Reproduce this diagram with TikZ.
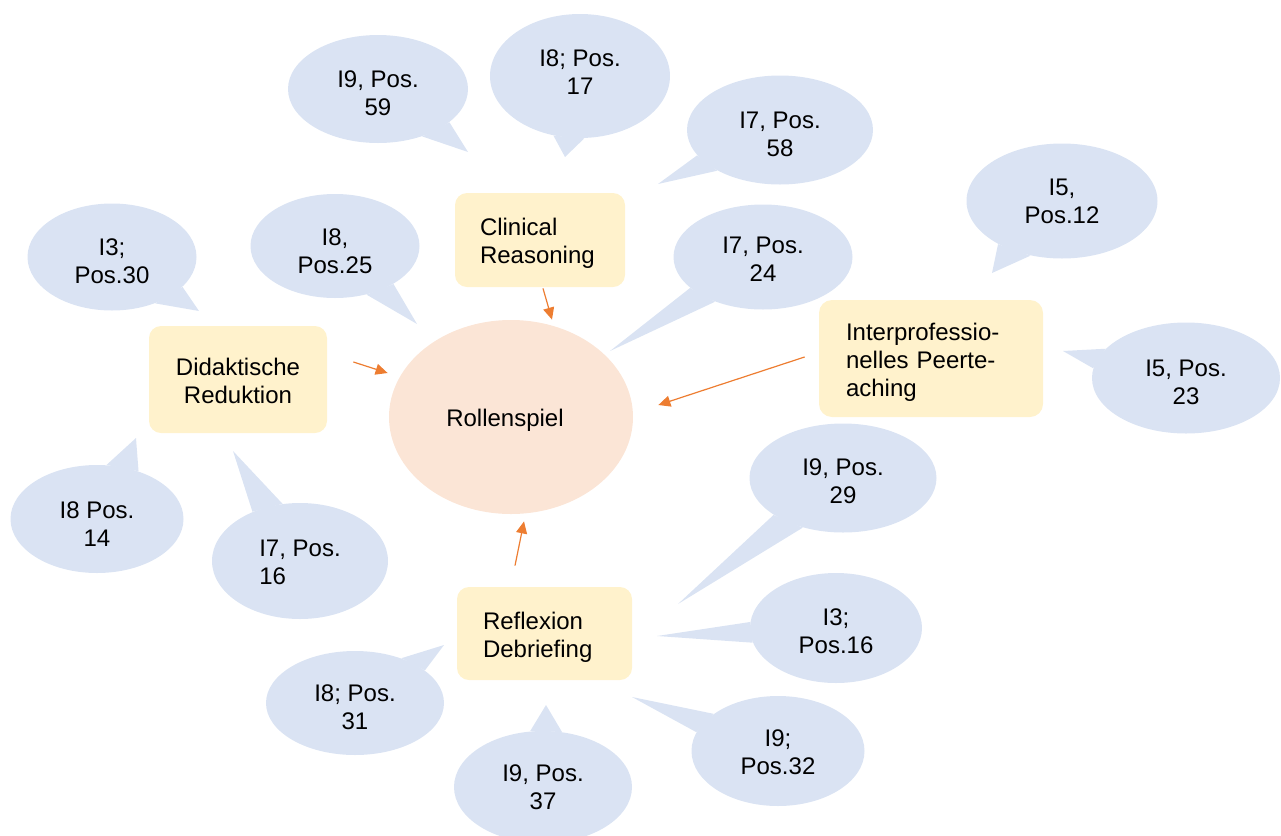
\documentclass[tikz,border=0pt]{standalone}
\usepackage{fontspec}
\setmainfont{Liberation Sans}
\usetikzlibrary{shapes.geometric,arrows.meta,backgrounds}

\definecolor{bubblefill}{HTML}{DAE3F3}
\definecolor{boxfill}{HTML}{FFF2CC}
\definecolor{centrefill}{HTML}{FBE5D6}
\definecolor{arrowc}{HTML}{ED7D31}

\tikzset{
  txt/.style={font=\fontsize{12pt}{14pt}\selectfont, text=black},
  bubble/.style={txt, ellipse, fill=bubblefill, inner sep=0pt, align=center,
    text height=26pt, text depth=0pt},
  tail/.style={fill=bubblefill},
  topic/.style={txt, rectangle, rounded corners=6pt, fill=boxfill, inner sep=0pt},
  lefttopic/.style={topic, align=left, text height=12pt},
  centre/.style={txt, ellipse, fill=centrefill, inner sep=0pt, text height=12pt,
    minimum width=122pt, minimum height=97pt},
  arr/.style={draw=arrowc, line width=0.6pt,
    -{Triangle[length=6pt,width=5.5pt,fill=arrowc]}}
}

% tail of a speech bubble: node, border angles, tip coordinate
\newcommand{\bubtail}[4]{\fill[tail] (#1.#2) -- (#4) -- (#1.#3) -- cycle;}

\begin{document}
\begin{tikzpicture}[x=0.5pt,y=-0.5pt]
\useasboundingbox (0,0) rectangle (1281,836);

% central topic
\node[centre] (rs) at (511,417) {\hspace*{-6pt}Rollenspiel};

% aspects
\node[lefttopic, minimum width=85pt, minimum height=47pt,
      inner xsep=12.5pt, text width=60pt]
  (clin) at (540,240) {Clinical\\Reasoning};
\node[topic, minimum width=89pt, minimum height=53.5pt, align=center,
      text height=24pt, text depth=0pt]
  (did) at (238,379.5) {Didaktische\\Reduktion};
\node[lefttopic, minimum width=112pt, minimum height=58.5pt, rounded corners=6.5pt,
      inner xsep=13.5pt, text width=85pt]
  (peer) at (931,358.5) {Interprofessio-\\nelles Peerte-\\aching};
\node[lefttopic, minimum width=87.5pt, minimum height=46.5pt,
      inner xsep=13pt, text width=61.5pt]
  (refl) at (544.5,633.5) {Reflexion\\Debriefing};

% speech bubbles with interview references
\node[bubble, minimum width=90pt,   minimum height=54pt]   (b1)  at (378,89)   {I9, Pos.\\59};
\node[bubble, minimum width=90pt,   minimum height=62pt, text height=18.5pt] (b2) at (580,76) {I8; Pos.\\17};
\node[bubble, minimum width=93pt,   minimum height=54.5pt] (b3)  at (780,130)  {I7, Pos.\\58};
\node[bubble, minimum width=95.5pt, minimum height=57.5pt, text height=22.5pt] (b4) at (1062,201) {I5,\\Pos.12};
\node[bubble, minimum width=89.5pt, minimum height=52.5pt, text height=24.5pt] (b5) at (763,257) {I7, Pos.\\24};
\node[bubble, minimum width=84.5pt, minimum height=52pt, text height=27pt] (b6) at (335,246) {I8,\\Pos.25};
\node[bubble, minimum width=84.5pt, minimum height=53.5pt] (b7)  at (112,257)  {I3;\\Pos.30};
\node[bubble, minimum width=94pt,   minimum height=55.5pt] (b8)  at (1186,378) {I5, Pos.\\23};
\node[bubble, minimum width=86.5pt, minimum height=54pt, text height=27pt] (b9) at (97,519) {I8 Pos.\\14};
\node[bubble, minimum width=88pt,   minimum height=58pt, align=left, text height=23.5pt] (b10) at (300,561) {I7, Pos.\\16};
\node[bubble, minimum width=93.5pt, minimum height=54.5pt, text height=25.5pt] (b11) at (843,478) {I9, Pos.\\29};
\node[bubble, minimum width=86pt,   minimum height=55pt, text height=25.5pt] (b12) at (836,628) {I3;\\Pos.16};
\node[bubble, minimum width=86.5pt, minimum height=55pt, text height=23.5pt] (b13) at (778,751) {I9;\\Pos.32};
\node[bubble, minimum width=89pt,   minimum height=56pt, text height=22.5pt] (b14) at (543,787) {I9, Pos.\\37};
\node[bubble, minimum width=89pt,   minimum height=52pt]   (b15) at (355,703)  {I8; Pos.\\31};

% tip points of the bubble tails
\coordinate (t1)  at (468,152);
\coordinate (t2)  at (565,157);
\coordinate (t3)  at (658,184);
\coordinate (t4)  at (992,273);
\coordinate (t5)  at (610,351);
\coordinate (t6)  at (417,324);
\coordinate (t7)  at (199,311);
\coordinate (t8)  at (1063,351);
\coordinate (t9)  at (136,438);
\coordinate (t10) at (233,451);
\coordinate (t11) at (678,604);
\coordinate (t12) at (657,636);
\coordinate (t13) at (632,697);
\coordinate (t14) at (546,705);
\coordinate (t15) at (444,645);

\begin{pgfonlayer}{background}
  \bubtail{b1}{-25}{-47}{t1}
  \bubtail{b2}{-114}{-86}{t2}
  \bubtail{b3}{197}{213.5}{t3}
  \bubtail{b4}{214}{240.6}{t4}
  \bubtail{b5}{203}{223}{t5}
  \bubtail{b6}{-33}{-57}{t6}
  \bubtail{b7}{-23}{-47}{t7}
  \bubtail{b8}{160}{174.5}{t8}
  \bubtail{b9}{80.5}{49.6}{t9}
  \bubtail{b10}{134}{107}{t10}
  \bubtail{b11}{208}{231}{t11}
  \bubtail{b12}{176}{190.6}{t12}
  \bubtail{b13}{150}{167.5}{t13}
  \bubtail{b14}{103}{71}{t14}
  \bubtail{b15}{44}{25}{t15}
\end{pgfonlayer}

% arrows towards the central topic
\draw[arr] ([xshift=1.5pt,yshift=-0.5pt]clin.south) -- ([xshift=20.5pt]rs.north);
\draw[arr] ([xshift=13pt,yshift=8.75pt]did.east) -- ([xshift=-0.5pt,yshift=22pt]rs.west);
\draw[arr] ([xshift=-7pt,yshift=0.75pt]peer.west) -- ([xshift=12.5pt,yshift=6pt]rs.east);
\draw[arr] ([xshift=-14.75pt,yshift=10.5pt]refl.north) -- ([xshift=6.5pt,yshift=-3.5pt]rs.south);
\end{tikzpicture}
\end{document}
